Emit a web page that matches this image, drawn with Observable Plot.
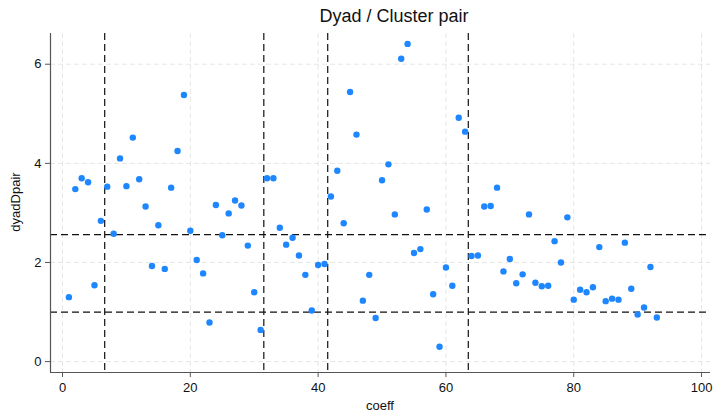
<!DOCTYPE html>
<html><head><meta charset="utf-8">
<script src="https://cdn.jsdelivr.net/npm/d3@7"></script>
<script src="https://cdn.jsdelivr.net/npm/@observablehq/plot@0.6"></script>
<style>
body{margin:0;background:#fff;font-family:"Liberation Sans",Arial,sans-serif}
#c{position:relative;width:714px;height:416px;overflow:hidden}
.lab{position:absolute;color:#111;white-space:nowrap}
</style></head>
<body><div id="c"></div>
<script>
const title = "Dyad / Cluster pair";
const xLabel = "coeff";
const yLabel = "dyadDpair";
const coeff = d3.range(1, 94);
const dyadDpair = [
1.30,3.48,3.70,3.62,1.54,2.84,3.53,2.58,4.10,3.54,
4.52,3.68,3.13,1.93,2.75,1.87,3.51,4.25,5.38,2.64,
2.05,1.78,0.79,3.16,2.55,2.99,3.25,3.15,2.34,1.40,
0.64,3.70,3.70,2.70,2.36,2.50,2.14,1.75,1.03,1.95,
1.97,3.33,3.85,2.79,5.44,4.58,1.23,1.75,0.88,3.66,
3.98,2.97,6.11,6.41,2.19,2.27,3.07,1.36,0.30,1.90,
1.53,4.92,4.64,2.13,2.14,3.13,3.14,3.51,1.82,2.07,
1.58,1.76,2.97,1.59,1.52,1.53,2.43,2.00,2.91,1.25,
1.45,1.40,1.50,2.31,1.22,1.27,1.25,2.40,1.47,0.95,
1.09,1.91,0.89];
const xCuts = [6.6, 31.5, 41.5, 63.5];
const yCuts = [1.0, 2.56];
const xTicks = [0, 20, 40, 60, 80, 100];
const yTicks = [0, 2, 4, 6];

const data = coeff.map((c, i) => ({coeff: c, dyadDpair: dyadDpair[i]}));
const xDom = [-1.88, 101.4], yDom = [-0.22, 6.62];
const grid = {stroke: "#e6e6e6", strokeWidth: 1, strokeDasharray: "5,3"};
const ref = {stroke: "#111", strokeWidth: 1.2, strokeDasharray: "7,4"};

const chart = Plot.plot({
  width: 714, height: 416,
  marginLeft: 50, marginRight: 4, marginTop: 33, marginBottom: 44,
  style: {fontFamily: "'Liberation Sans', Arial, sans-serif", fontSize: "13px", color: "#111", background: "#fff"},
  x: {domain: xDom, label: null},
  y: {domain: yDom, label: null},
  marks: [
    Plot.ruleX(xTicks, {...grid}),
    Plot.ruleY(yTicks, {...grid}),
    Plot.ruleX(xCuts, {...ref}),
    Plot.ruleY(yCuts, {...ref}),
    Plot.ruleX([xDom[0]], {stroke: "#555", strokeWidth: 1.2}),
    Plot.ruleY([yDom[0]], {stroke: "#555", strokeWidth: 1.2}),
    Plot.axisX(xTicks, {tickSize: 5, tickPadding: 5, stroke: "#555", label: null, fontSize: 13, tickFormat: d3.format("d")}),
    Plot.axisY(yTicks, {tickSize: 5, tickPadding: 4, stroke: "#555", label: null, fontSize: 13, tickFormat: d3.format("d")}),
    Plot.dot(data, {x: "coeff", y: "dyadDpair", r: 3.2, fill: "#1e87ff", stroke: "none"})
  ]
});
const c = document.getElementById("c");
c.appendChild(chart);
function lab(txt, css){const d=document.createElement("div");d.className="lab";d.textContent=txt;Object.assign(d.style,css);c.appendChild(d);return d;}
lab(title, {left:"394px", top:"6px", fontSize:"18px", transform:"translateX(-50%)"});
lab(xLabel, {left:"380px", top:"398px", fontSize:"13px", transform:"translateX(-50%)"});
lab(yLabel, {left:"15px", top:"202px", fontSize:"13px", transform:"translate(-50%,-50%) rotate(-90deg)"});
</script></body></html>
